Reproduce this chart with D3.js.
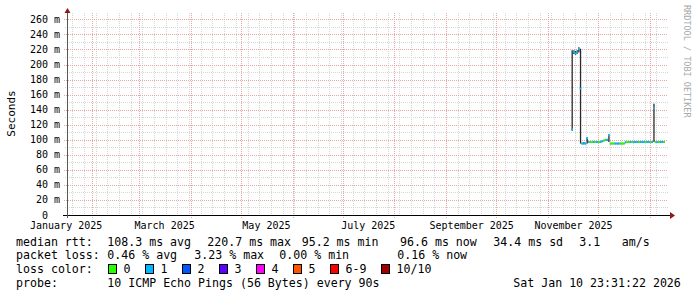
<!DOCTYPE html>
<html>
<head>
<meta charset="utf-8">
<title>SmokePing</title>
<script src="https://cdnjs.cloudflare.com/ajax/libs/d3/7.8.5/d3.min.js"></script>
<style>
  body { margin: 0; background: #fff; }
  text { font-family: "DejaVu Sans Mono", monospace; white-space: pre; }
</style>
</head>
<body>
<div id="chart"></div>
<script>
// x axis labels (two-monthly) and y ticks
var monthLabels = ["January 2025", "March 2025", "May 2025", "July 2025", "September 2025", "November 2025"];
var monthLabelStarts = ["2025-01-01", "2025-03-01", "2025-05-01", "2025-07-01", "2025-09-01", "2025-11-01"];
var yMajor = [0, 20, 40, 60, 80, 100, 120, 140, 160, 180, 200, 220, 240, 260];

// consolidated samples (one per day), median rtt in ms
var days = ["2025-11-15","2025-11-16","2025-11-17","2025-11-18","2025-11-19","2025-11-20",
  "2025-11-21","2025-11-22","2025-11-23","2025-11-24","2025-11-25","2025-11-26","2025-11-27",
  "2025-11-28","2025-11-29","2025-11-30","2025-12-01","2025-12-02","2025-12-03","2025-12-04",
  "2025-12-05","2025-12-06","2025-12-07","2025-12-08","2025-12-09","2025-12-10","2025-12-11",
  "2025-12-12","2025-12-13","2025-12-14","2025-12-15","2025-12-16","2025-12-17","2025-12-18",
  "2025-12-19","2025-12-20","2025-12-21","2025-12-22","2025-12-23","2025-12-24","2025-12-25",
  "2025-12-26","2025-12-27","2025-12-28","2025-12-29","2025-12-30","2025-12-31","2026-01-01",
  "2026-01-02","2026-01-03","2026-01-04","2026-01-05","2026-01-06","2026-01-07","2026-01-08",
  "2026-01-09"];
var medianMs = [114,217,215,216,221,168,
  95,95,95,102,97,97,97,
  97,97,97,97,97,98,99,
  100,100,106,95,95,95,95,
  95,95,95,95,95,96.5,97,
  97,97,97,97,97,97,97,
  97,97,97,97,97,97,97,
  97,142,97,97,97,97,97,
  97];
var lossLevel = [1,1,1,1,1,1,
  1,1,1,1,1,0,0,
  1,0,1,0,1,1,0,
  0,1,1,0,0,0,1,
  1,1,0,0,0,1,0,
  0,1,0,1,1,1,0,
  1,1,1,0,1,1,0,
  1,1,0,1,0,1,1,
  0];
var smokeLo = [112,214,213,214,216,95,
  94,94,94,95,96,96,96,
  96,96,96,96,96,97,98,
  99,99,97,94,94,94,94,
  94,94,94,94,94,96,96,
  96,96,96,96,96,96,96,
  96,96,96,96,96,96,96,
  96,97,96,96,96,96,96,
  96];
var smokeHi = [219,219,218,219,223,221,
  96,97,96,103,98,98,98,
  98,98,98,98,98,99,100,
  101,101,107,96,96,96,96,
  96,96,96,96,96,97.5,98,
  98,98,98,98,98,98,98,
  98,98,98,98,98,98,98,
  98,148,98,98,98,98,98,
  98];

var lossNames = ["0", "1", "2", "3", "4", "5", "6-9", "10/10"];
var lossColors = ["#26ff00", "#00b8ff", "#0059ff", "#5e00ff", "#ff00ff", "#ff5500", "#ff0000", "#a10000"];
var lossBoxX = [108.5, 145.5, 182.5, 219.5, 256.5, 293.5, 330.5, 381.5];

var W = 697, H = 297;
var X0 = 67, Y0 = 215;

var svg = d3.select("#chart").append("svg")
    .attr("width", W).attr("height", H);
svg.append("rect").attr("width", W).attr("height", H).attr("fill", "#fff");

var parse = d3.timeParse("%Y-%m-%d");
var tStart = new Date(2025, 0, 16, 20, 9);
var tEnd = new Date(2026, 0, 10, 23, 31);

var x = d3.scaleTime().domain([tStart, tEnd]).range([X0, 666.4]);
var y = d3.scaleLinear().domain([0, 268.5]).range([Y0, 13]);

// minor grid: weekly verticals, 10 ms horizontals
var weeks = d3.timeMonday.range(tStart, tEnd);
svg.append("g").selectAll("line").data(weeks).enter().append("line")
    .attr("x1", function(d) { return Math.round(x(d)) + 0.5; })
    .attr("x2", function(d) { return Math.round(x(d)) + 0.5; })
    .attr("y1", 13).attr("y2", Y0 + 2)
    .attr("stroke", "#d6d6d6").attr("stroke-dasharray", "1,1");
var yMinor = d3.range(10, 270, 20);
svg.append("g").selectAll("line").data(yMinor).enter().append("line")
    .attr("x1", X0 - 2).attr("x2", 668)
    .attr("y1", function(d) { return Math.round(y(d)) + 0.5; })
    .attr("y2", function(d) { return Math.round(y(d)) + 0.5; })
    .attr("stroke", "#d6d6d6").attr("stroke-dasharray", "1,1");

// major grid: month starts, 20 ms
var months = d3.timeMonth.range(tStart, tEnd);
svg.append("g").selectAll("line").data(months).enter().append("line")
    .attr("x1", function(d) { return Math.round(x(d)) + 0.5; })
    .attr("x2", function(d) { return Math.round(x(d)) + 0.5; })
    .attr("y1", 13).attr("y2", Y0 + 3)
    .attr("stroke", "#eaa6a6").attr("stroke-dasharray", "1,1");
svg.append("g").selectAll("line").data(yMajor.slice(1)).enter().append("line")
    .attr("x1", X0 - 3).attr("x2", 668)
    .attr("y1", function(d) { return Math.round(y(d)) + 0.5; })
    .attr("y2", function(d) { return Math.round(y(d)) + 0.5; })
    .attr("stroke", "#eaa6a6").attr("stroke-dasharray", "1,1");

// y labels
svg.append("g").selectAll("text").data(yMajor).enter().append("text")
    .attr("x", 60)
    .attr("y", function(d) { return y(d) + 3.5; })
    .attr("text-anchor", "end")
    .style("font-size", "10px").attr("fill", "#000")
    .text(function(d) { return d === 0 ? "0  " : d + " m"; });

// x labels, centred mid-month
svg.append("g").selectAll("text").data(monthLabels).enter().append("text")
    .attr("x", function(d, i) { return x(d3.timeHour.offset(parse(monthLabelStarts[i]), 15 * 24 + 8)); })
    .attr("y", 228.5)
    .attr("text-anchor", "middle")
    .style("font-size", "10px").attr("fill", "#000")
    .text(function(d) { return d; });

// smoke
var pts = days.map(function(d, i) {
  return { t: parse(d), med: medianMs[i], loss: lossLevel[i], lo: smokeLo[i], hi: smokeHi[i] };
});
svg.append("g").selectAll("rect").data(pts).enter().append("rect")
    .attr("x", function(d) { return x(d3.timeHour.offset(d.t, 12)) - 0.6; })
    .attr("width", 1.3)
    .attr("y", function(d) { return y(d.hi); })
    .attr("height", function(d) { return y(d.lo) - y(d.hi); })
    .attr("fill", "#2a2a2a");

// median, coloured by loss
svg.append("g").selectAll("line").data(pts).enter().append("line")
    .attr("x1", function(d) { return x(d.t); })
    .attr("x2", function(d) { return x(d3.timeDay.offset(d.t, 1)); })
    .attr("y1", function(d) { return y(d.med); })
    .attr("y2", function(d) { return y(d.med); })
    .attr("stroke", function(d) { return lossColors[d.loss]; })
    .attr("stroke-width", 2);

// axes with arrows
svg.append("line").attr("x1", X0 - 4).attr("x2", 670).attr("y1", Y0 + 0.5).attr("y2", Y0 + 0.5)
    .attr("stroke", "#000");
svg.append("line").attr("x1", X0 + 0.5).attr("x2", X0 + 0.5).attr("y1", Y0 + 3).attr("y2", 12)
    .attr("stroke", "#555");
svg.append("path").attr("d", "M670,212 L675,215.5 L670,219 Z").attr("fill", "#8b1a1a");
svg.append("path").attr("d", "M64.5,13 L67.5,8 L70.5,13 Z").attr("fill", "#8b1a1a");

// vertical axis title
svg.append("text")
    .attr("transform", "translate(15,113.5) rotate(-90)")
    .attr("text-anchor", "middle")
    .style("font-size", "11px").attr("fill", "#000")
    .text("Seconds");

// watermark
svg.append("text")
    .attr("transform", "translate(684,5) rotate(90)")
    .style("font-size", "8.5px").attr("fill", "#a8a8a8")
    .text("RRDTOOL / TOBI OETIKER");

// legend
function legendRow(yb, parts) {
  var t = svg.append("text").attr("y", yb).style("font-size", "11.6px").attr("fill", "#000");
  parts.forEach(function(p) {
    t.append("tspan").attr("x", p[0]).text(p[1]);
  });
}
legendRow(245.5, [[16, "median rtt:"], [107.3, "108.3 ms avg"], [207.3, "220.7 ms max"],
  [301.7, "95.2 ms min"], [400, "96.6 ms now"], [493.3, "34.4 ms sd"], [579.3, "3.1"], [621.7, "am/s"]]);
legendRow(259, [[16, "packet loss:"], [107.3, "0.46 % avg"], [194.3, "3.23 % max"],
  [279.3, "0.00 % min"], [397.3, "0.16 % now"]]);
legendRow(273, [[16, "loss color:"]]);
legendRow(286.7, [[16, "probe:"], [107.3, "10 ICMP Echo Pings (56 Bytes) every 90s"],
  [513.3, "Sat Jan 10 23:31:22 2026"]]);

var lg = svg.append("g");
lg.selectAll("rect").data(lossColors).enter().append("rect")
    .attr("x", function(d, i) { return lossBoxX[i]; })
    .attr("y", 264.5).attr("width", 8).attr("height", 9)
    .attr("fill", function(d) { return d; })
    .attr("stroke", "#000").attr("stroke-width", 1);
lg.selectAll("text").data(lossNames).enter().append("text")
    .attr("x", function(d, i) { return lossBoxX[i] + 15; })
    .attr("y", 273)
    .style("font-size", "11.6px").attr("fill", "#000")
    .text(function(d) { return d; });
</script>
</body>
</html>
